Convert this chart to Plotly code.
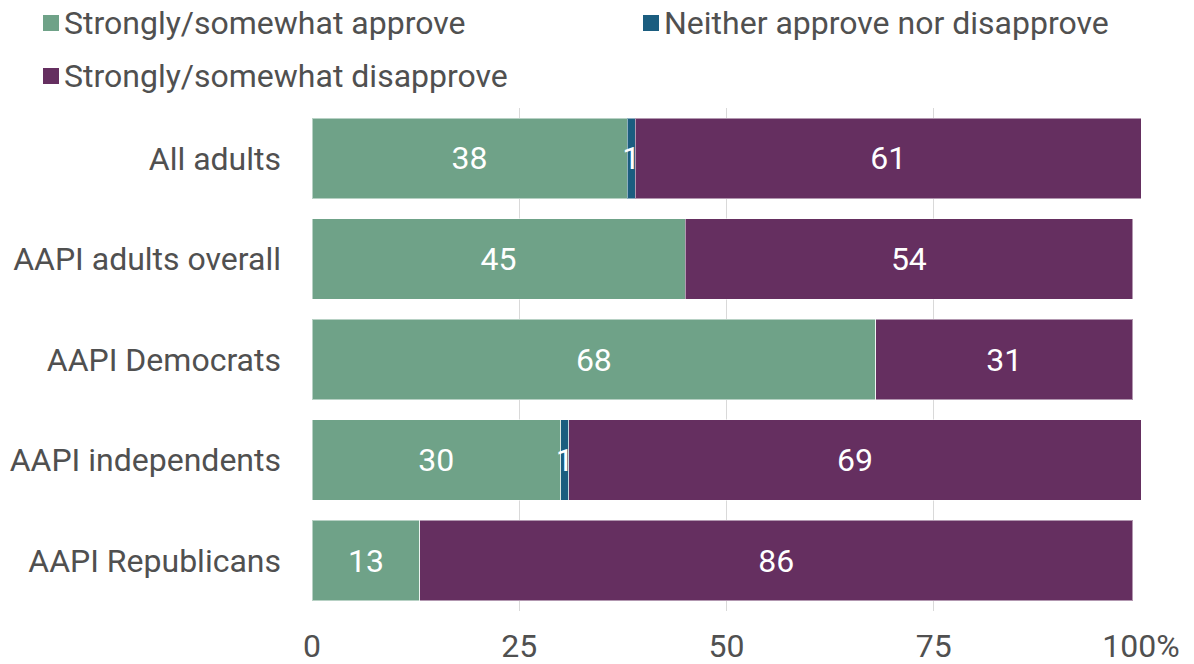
import plotly.graph_objects as go

# Survey groups, top to bottom
groups = ["All adults", "AAPI adults overall", "AAPI Democrats",
          "AAPI independents", "AAPI Republicans"]

# Percent of each group by response
approve = [38, 45, 68, 30, 13]
neither = [1, 0, 0, 1, 0]
disapprove = [61, 54, 31, 69, 86]

series_names = ["Strongly/somewhat approve", "Neither approve nor disapprove",
                "Strongly/somewhat disapprove"]
series_colors = ["#6FA288", "#1B5D7F", "#652F60"]
series_values = [approve, neither, disapprove]

tick_vals = [0, 25, 50, 75, 100]
tick_text = ["0", "25", "50", "75", "100%"]

FONT = "Roboto, 'Open Sans', sans-serif"
TEXT = "#505050"
SIZE = 32

W, H = 1194, 664
ML, MR, MT, MB = 312, 53, 108, 53
PW, PH = W - ML - MR, H - MT - MB


def px_x(px):
    return (px - ML) / PW


def px_y(py):
    return (H - MB - py) / PH


fig = go.Figure()
for name, vals, color in zip(series_names, series_values, series_colors):
    fig.add_trace(go.Bar(
        y=groups,
        x=vals,
        name=name,
        orientation="h",
        marker=dict(color=color, line=dict(color="rgba(255,255,255,0.5)", width=1)),
        text=[str(v) if v else "" for v in vals],
        textposition="inside",
        insidetextanchor="middle",
        constraintext="none",
        textfont=dict(family=FONT, size=SIZE, color="white"),
        hoverinfo="x+y+name",
        showlegend=False,
    ))

# Legend: coloured square + label, laid out in two rows
legend_pos = [(43, 23), (643, 23), (43, 76)]
for (lx, ly), name, color in zip(legend_pos, series_names, series_colors):
    fig.add_shape(
        type="rect", xref="paper", yref="paper",
        x0=px_x(lx), x1=px_x(lx + 16), y0=px_y(ly - 8), y1=px_y(ly + 8),
        fillcolor=color, line=dict(width=0),
    )
    fig.add_annotation(
        xref="paper", yref="paper", x=px_x(lx + 19), y=px_y(ly),
        xanchor="left", yanchor="middle", showarrow=False,
        text=name, font=dict(family=FONT, size=SIZE, color=TEXT),
    )

fig.update_layout(
    barmode="stack",
    bargap=0.2,
    width=W,
    height=H,
    margin=dict(l=ML, r=MR, t=MT, b=MB, autoexpand=False),
    paper_bgcolor="white",
    plot_bgcolor="white",
    font=dict(family=FONT, size=SIZE, color=TEXT),
    showlegend=False,
    xaxis=dict(
        range=[0, 100],
        tickvals=tick_vals,
        ticktext=tick_text,
        showgrid=True,
        gridcolor="#D9D9D9",
        gridwidth=1,
        zeroline=False,
        showline=False,
        ticks="",
        ticklabelstandoff=13,
        automargin=False,
        tickfont=dict(family=FONT, size=SIZE, color=TEXT),
    ),
    yaxis=dict(
        autorange="reversed",
        showgrid=False,
        zeroline=False,
        ticks="",
        ticklabelstandoff=30,
        automargin=False,
        tickfont=dict(family=FONT, size=SIZE, color=TEXT),
    ),
)

fig.write_html("out.html")
